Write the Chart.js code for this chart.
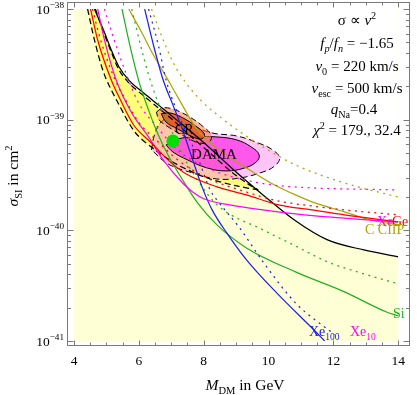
<!DOCTYPE html>
<html>
<head>
<meta charset="utf-8">
<script src="https://cdn.jsdelivr.net/npm/chart.js@4.4.1/dist/chart.umd.min.js"></script>
<style>
html,body{margin:0;padding:0;background:#fff;}
canvas{display:block;}
</style>
</head>
<body>
<canvas id="c" width="417" height="395"></canvas>
<script>
// axis ticks
var xTicks = [4, 6, 8, 10, 12, 14];
var yDecades = [-41, -40, -39, -38];

// curves: DM mass in GeV, cross section in cm^2
var blackMass  = [4.63,4.91,5.15,5.39,5.69,6.15,6.60,7.05,7.66,8.26,8.86,9.32,9.83,10.83,11.82,12.94,14.0];
var blackSigma = [1.0e-38,6.46e-39,4.27e-39,2.99e-39,2.28e-39,1.74e-39,1.36e-39,1.06e-39,7.58e-40,5.32e-40,3.66e-40,2.79e-40,2.09e-40,1.22e-40,8.19e-41,6.65e-41,5.75e-41];

var bandLoMass  = [4.42,4.63,4.94,5.39,5.90,6.51,7.20,8.11,9.02,9.68];
var bandLoSigma = [1.0e-38,5.25e-39,2.54e-39,1.36e-39,7.58e-40,5.32e-40,3.90e-40,2.97e-40,2.52e-40,2.32e-40];
var bandHiMass  = [4.66,4.91,5.15,5.39,5.69,6.15,6.60,7.05,7.66,8.26,8.86,9.32,9.68];
var bandHiSigma = [1.0e-38,6.20e-39,4.09e-39,2.81e-39,2.15e-39,1.64e-39,1.28e-39,9.93e-40,6.84e-40,4.80e-40,3.37e-40,2.68e-40,2.32e-40];

var redMass  = [4.51,4.73,5.15,5.39,5.84,6.39,6.90,7.41,8.41,9.32,10.31,11.34,12.34,14.0];
var redSigma = [1.0e-38,5.25e-39,2.28e-39,1.60e-39,8.95e-40,6.16e-40,4.33e-40,3.30e-40,2.47e-40,2.09e-40,1.70e-40,1.53e-40,1.38e-40,1.19e-40];
var redDotMass  = [4.57,4.82,5.27,5.54,5.99,6.60,7.20,8.11,9.32,10.31,11.34,12.34,14.0];
var redDotSigma = [1.0e-38,5.25e-39,2.28e-39,1.60e-39,9.53e-40,6.29e-40,4.33e-40,2.97e-40,2.22e-40,1.84e-40,1.66e-40,1.53e-40,1.38e-40];

var magMass  = [4.73,4.94,5.30,5.78,6.30,6.75,7.35,7.66,8.02,8.80,9.83,10.83,11.82,14.0];
var magSigma = [1.0e-38,5.25e-39,2.28e-39,1.15e-39,6.98e-40,4.33e-40,2.68e-40,2.22e-40,1.92e-40,1.70e-40,1.53e-40,1.41e-40,1.32e-40,1.19e-40];
var magDotMass  = [4.94,5.24,5.60,5.99,6.51,7.20,8.11,9.02,10.13,11.34,14.0];
var magDotSigma = [1.0e-38,5.25e-39,2.64e-39,1.42e-39,8.95e-40,5.32e-40,3.66e-40,2.97e-40,2.57e-40,2.42e-40,2.32e-40];

var greenMass  = [5.48,5.72,5.99,6.30,6.60,6.90,7.35,7.81,8.41,9.32,10.83,12.34,13.64,14.0];
var greenSigma = [1.0e-38,4.73e-39,2.28e-39,1.22e-39,7.27e-40,4.80e-40,2.85e-40,1.77e-40,1.12e-40,6.93e-41,4.21e-41,2.78e-41,1.83e-41,1.69e-41];
var greenDotMass  = [5.78,6.05,6.30,6.60,6.90,7.35,7.81,8.41,9.83,10.83,11.82,12.85,14.0];
var greenDotSigma = [1.0e-38,4.73e-39,2.54e-39,1.42e-39,9.34e-40,4.80e-40,2.85e-40,1.70e-40,1.01e-40,7.23e-41,5.19e-41,4.12e-41,3.28e-41];

var blueMass  = [6.18,6.45,6.75,7.05,7.35,7.66,7.96,8.26,8.71,9.32,10.31,11.34,11.73];
var blueSigma = [1.0e-38,4.73e-39,2.28e-39,1.36e-39,8.07e-40,4.33e-40,2.42e-40,1.53e-40,9.48e-41,5.41e-41,2.61e-41,1.31e-41,1.0e-41];
var blueDotMass  = [6.30,6.60,6.84,7.20,7.81,8.20,8.41,9.11,9.83,10.83,12.04];
var blueDotSigma = [1.0e-38,4.73e-39,2.28e-39,1.15e-39,4.60e-40,2.32e-40,1.88e-40,1.05e-40,5.19e-41,2.21e-41,1.14e-41];

var oliveMass  = [5.69,6.08,6.45,6.81,7.20,7.81,8.56,9.32,10.07,10.83,11.43,12.34,13.15,14.0];
var oliveSigma = [1.0e-38,6.20e-39,3.84e-39,2.54e-39,1.60e-39,8.07e-40,5.11e-40,3.66e-40,2.68e-40,2.09e-40,1.77e-40,1.47e-40,1.24e-40,1.12e-40];
var oliveDotMass  = [6.39,6.69,7.05,7.50,7.96,8.50,9.17,9.83,10.83,12.34,14.0];
var oliveDotSigma = [1.0e-38,5.82e-39,3.32e-39,2.06e-39,1.45e-39,1.06e-39,7.58e-40,5.66e-40,3.90e-40,2.68e-40,2.00e-40];

// DAMA contours
var damaOutMass  = [6.39,6.48,6.69,7.05,7.66,8.26,9.02,9.68,10.13,10.34,10.19,9.83,9.11,8.41,7.66,6.90,6.39];
var damaOutSigma = [5.32e-40,7.27e-40,9.53e-40,1.06e-39,8.77e-40,7.58e-40,7.12e-40,6.16e-40,5.32e-40,4.51e-40,3.82e-40,3.37e-40,2.97e-40,2.91e-40,3.30e-40,3.98e-40,5.32e-40];
var damaInMass  = [6.84,7.20,7.81,8.41,9.02,9.47,9.71,9.62,9.26,8.71,8.11,7.50,7.05,6.84];
var damaInSigma = [5.91e-40,6.70e-40,6.98e-40,6.98e-40,6.56e-40,5.66e-40,4.80e-40,4.15e-40,3.66e-40,3.44e-40,3.66e-40,4.33e-40,5.11e-40,5.91e-40];

// CR contours
var crOutMass  = [6.54,6.75,7.14,7.56,7.96,8.23,8.17,7.87,7.44,6.96,6.63,6.54];
var crOutSigma = [1.17e-39,1.28e-39,1.22e-39,1.06e-39,8.77e-40,7.27e-40,6.29e-40,6.16e-40,6.98e-40,8.41e-40,9.93e-40,1.17e-39];
var crInMass  = [6.69,6.96,7.35,7.75,8.02,7.93,7.60,7.20,6.84,6.69];
var crInSigma = [1.13e-39,1.15e-39,1.04e-39,8.77e-40,7.43e-40,6.70e-40,7.12e-40,8.24e-40,9.53e-40,1.13e-39];

// best fit point
var bestMass = [7.05];
var bestSigma = [6.42e-40];

function pts(m, s) {
	var out = [];
	for (var i in m) out.push({x: m[i], y: s[i]});
	return out;
}

var serif = '"Liberation Serif", "Times New Roman", serif';
var pale = '#ffffd6';

function curve(m, s, color, dash, order) {
	return {
		data: pts(m, s), borderColor: color, borderWidth: 1.25,
		borderDash: dash || [], pointRadius: 0, fill: false, order: order || 0,
		cubicInterpolationMode: 'monotone'
	};
}

function region(m, s, bg, dash, order) {
	return {
		data: pts(m, s), backgroundColor: bg, borderColor: '#000', borderWidth: 1,
		borderDash: dash || [], pointRadius: 0, fill: 'shape', order: order, tension: 0.4
	};
}

var dotted = [2, 4.5];
var dashed = [6, 3.5];

var bandData = pts(bandLoMass, bandLoSigma).concat(pts(bandHiMass, bandHiSigma).reverse());

var datasets = [
	// white above the black limit (plot area is pale yellow underneath)
	{data: pts(blackMass, blackSigma), backgroundColor: '#ffffff', borderWidth: 0, pointRadius: 0,
	 fill: 'end', order: 30, cubicInterpolationMode: 'monotone'},
	{data: bandData, backgroundColor: '#ffff7a', borderWidth: 0, pointRadius: 0, fill: 'shape',
	 order: 29, tension: 0.3},
	region(damaOutMass, damaOutSigma, 'rgba(255,110,240,0.40)', dashed, 28),
	region(damaInMass, damaInSigma, 'rgba(255,50,230,0.75)', [], 27),
	region(crOutMass, crOutSigma, 'rgba(255,120,70,0.55)', dashed, 26),
	region(crInMass, crInSigma, 'rgba(228,85,35,0.85)', [], 25),
	{data: pts(bandLoMass, bandLoSigma), borderColor: '#000', borderWidth: 1.25, borderDash: dashed,
	 pointRadius: 0, fill: false, order: 10, tension: 0.3},
	{data: pts(bandHiMass, bandHiSigma), borderColor: '#000', borderWidth: 1.25, borderDash: dashed,
	 pointRadius: 0, fill: false, order: 10, tension: 0.3},
	curve(blackMass, blackSigma, '#000', [], 9),
	curve(oliveDotMass, oliveDotSigma, '#b0a400', dotted, 8),
	curve(oliveMass, oliveSigma, '#b0a400', [], 8),
	curve(greenDotMass, greenDotSigma, '#22b022', dotted, 7),
	curve(greenMass, greenSigma, '#22b022', [], 7),
	curve(blueDotMass, blueDotSigma, '#2020ee', dotted, 6),
	curve(blueMass, blueSigma, '#2020ee', [], 6),
	curve(magDotMass, magDotSigma, '#ff00ff', dotted, 5),
	curve(magMass, magSigma, '#ff00ff', [], 5),
	curve(redDotMass, redDotSigma, '#ff0000', dotted, 4),
	curve(redMass, redSigma, '#ff0000', [], 4),
	{data: pts(bestMass, bestSigma), showLine: false, pointRadius: 6.5, pointBackgroundColor: '#00e000',
	 pointBorderWidth: 0, order: -1}
];

// text with italic / sub / sup pieces: [text, flags] flags: i=italic, b=subscript, p=superscript
function rich(ctx, segs, x, y, size, align) {
	var parts = [], total = 0;
	for (var k in segs) {
		var t = segs[k][0], f = segs[k][1] || '';
		var small = f.indexOf('b') >= 0 || f.indexOf('p') >= 0;
		var fs = small ? size * 0.68 : size;
		var font = (f.indexOf('i') >= 0 ? 'italic ' : '') + fs.toFixed(1) + 'px ' + serif;
		ctx.font = font;
		var w = ctx.measureText(t).width;
		var dy = f.indexOf('b') >= 0 ? size * 0.28 : (f.indexOf('p') >= 0 ? -size * 0.4 : 0);
		parts.push({t: t, font: font, w: w, dy: dy});
		total += w;
	}
	var cx = align === 'center' ? x - total / 2 : (align === 'right' ? x - total : x);
	ctx.textAlign = 'left';
	ctx.textBaseline = 'alphabetic';
	for (var j in parts) {
		ctx.font = parts[j].font;
		ctx.fillText(parts[j].t, cx, y + parts[j].dy);
		cx += parts[j].w;
	}
}

var framePlugin = {
	id: 'frame',
	beforeDatasetsDraw: function(chart) {
		var a = chart.chartArea, ctx = chart.ctx;
		ctx.save();
		ctx.fillStyle = pale;
		ctx.fillRect(a.left, a.top, a.right - a.left, a.bottom - a.top);
		ctx.restore();
	},
	afterDatasetsDraw: function(chart) {
		var ctx = chart.ctx, xs = chart.scales.x, ys = chart.scales.y;
		var L = 67.5, R = 409.5, T = 2.5, B = 345.5;
		ctx.save();
		ctx.strokeStyle = '#7a7a7a';
		ctx.lineWidth = 1;
		ctx.strokeRect(L, T, R - L, B - T);
		ctx.beginPath();
		for (var v = xTicks[0]; v <= xTicks[xTicks.length - 1] + 0.001; v += 0.5) {
			var px = Math.round(xs.getPixelForValue(v)) + 0.5;
			var len = (xTicks.indexOf(v) >= 0) ? 5 : 3;
			ctx.moveTo(px, B); ctx.lineTo(px, B - len);
			ctx.moveTo(px, T); ctx.lineTo(px, T + len);
		}
		for (var d = -41; d <= -38; d++) {
			for (var m = 1; m <= 9; m++) {
				if (d === -38 && m > 1) break;
				var py = Math.round(ys.getPixelForValue(m * Math.pow(10, d))) + 0.5;
				var ln = m === 1 ? 6 : 3.5;
				ctx.moveTo(L, py); ctx.lineTo(L + ln, py);
				ctx.moveTo(R, py); ctx.lineTo(R - ln, py);
			}
		}
		ctx.stroke();
		ctx.restore();
	},
	afterDraw: function(chart) {
		var ctx = chart.ctx, ys = chart.scales.y;
		ctx.save();
		ctx.fillStyle = '#000';
		// y tick labels
		for (var k in yDecades) {
			var py = ys.getPixelForValue(Math.pow(10, yDecades[k]));
			rich(ctx, [['10'], ['\u2212' + Math.abs(yDecades[k]), 'p']], 64, py + 4.5, 13.5, 'right');
		}
		// axis titles
		rich(ctx, [['M', 'i'], ['DM', 'b'], [' in GeV']], 245, 390, 15.5, 'center');
		ctx.save();
		ctx.translate(18, 176);
		ctx.rotate(-Math.PI / 2);
		rich(ctx, [['\u03c3', 'i'], ['SI', 'b'], [' in cm'], ['2', 'p']], 0, 0, 15.5, 'center');
		ctx.restore();
		// parameter block
		var cx = 357, fs = 15;
		rich(ctx, [['\u03c3 \u221d '], ['v', 'i'], ['2', 'p']], cx, 25, fs, 'center');
		rich(ctx, [['f', 'i'], ['p', 'ib'], ['/'], ['f', 'i'], ['n', 'ib'], [' = \u22121.65']], cx, 48, fs, 'center');
		rich(ctx, [['v', 'i'], ['0', 'b'], [' = 220 km/s']], cx, 71, fs, 'center');
		rich(ctx, [['v', 'i'], ['esc', 'b'], [' = 500 km/s']], cx, 93, fs, 'center');
		rich(ctx, [['q', 'i'], ['Na', 'b'], ['=0.4']], cx - 3, 114, fs, 'center');
		rich(ctx, [['\u03c7', 'i'], ['2', 'p'], [' = 179., 32.4']], cx, 135, fs, 'center');
		// region and curve labels
		rich(ctx, [['DAMA']], 214, 159, 15, 'center');
		rich(ctx, [['CR']], 175, 134, 14, 'left');
		ctx.fillStyle = '#2020ee';
		rich(ctx, [['Xe'], ['100', 'b']], 309, 336, 14, 'left');
		ctx.fillStyle = '#ff00ff';
		rich(ctx, [['Xe'], ['10', 'b']], 350, 336, 14, 'left');
		rich(ctx, [['Xe']], 377, 226, 14, 'left');
		ctx.fillStyle = '#ff0000';
		rich(ctx, [['Ge']], 392, 226, 14, 'left');
		ctx.fillStyle = '#22b022';
		rich(ctx, [['Si']], 393, 318, 14, 'left');
		ctx.fillStyle = '#b0a400';
		rich(ctx, [['C CIIP']], 365, 234, 14, 'left');
		ctx.restore();
	}
};

var chart = new Chart(document.getElementById('c'), {
	type: 'line',
	data: {datasets: datasets},
	options: {
		responsive: false,
		devicePixelRatio: 1,
		animation: false,
		events: [],
		layout: {padding: {top: 9, right: 12, left: 0, bottom: 0}},
		plugins: {legend: {display: false}, tooltip: {enabled: false}},
		scales: {
			x: {
				type: 'linear', min: 4, max: 14,
				grid: {display: false, drawTicks: false},
				border: {display: false},
				ticks: {stepSize: 2, autoSkip: false, maxRotation: 0, padding: 12, color: '#000',
					font: {family: serif, size: 13.5}},
				afterFit: function(s) { s.height = 54; }
			},
			y: {
				type: 'logarithmic', min: 1e-41, max: 1e-38,
				grid: {display: false, drawTicks: false},
				border: {display: false},
				ticks: {display: false},
				afterFit: function(s) { s.width = 74; }
			}
		}
	},
	plugins: [framePlugin]
});
</script>
</body>
</html>
